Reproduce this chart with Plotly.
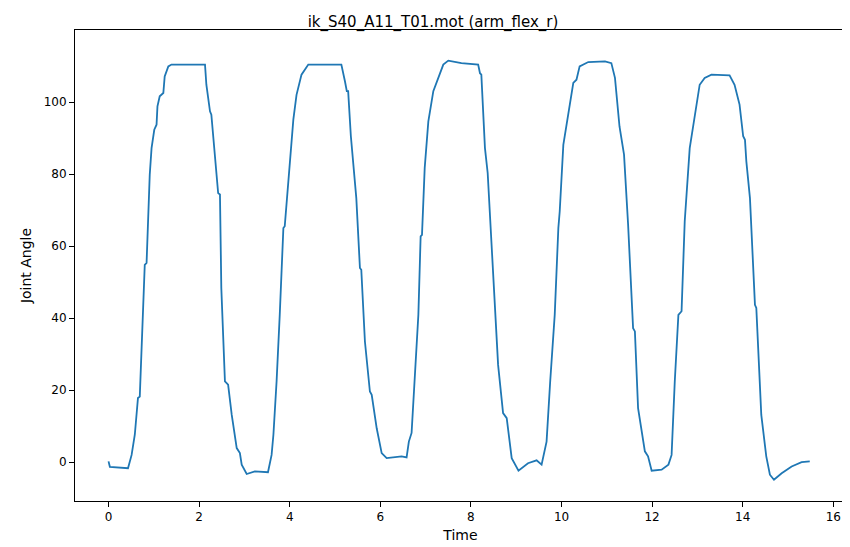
import plotly.graph_objects as go

# joint angle trace
time = [0.0, 0.03, 0.43, 0.51, 0.58, 0.65, 0.69, 0.73, 0.77, 0.80, 0.84, 0.88, 0.91, 0.95, 1.01,
        1.06, 1.08, 1.13, 1.21, 1.24, 1.32, 1.39, 1.69, 1.91, 2.13, 2.16, 2.24, 2.27, 2.35, 2.42,
        2.46, 2.49, 2.57, 2.64, 2.72, 2.83, 2.90, 2.94, 3.05, 3.23, 3.52, 3.60, 3.64, 3.71, 3.78,
        3.86, 3.89, 3.97, 4.08, 4.15, 4.26, 4.41, 4.85, 5.14, 5.22, 5.26, 5.29, 5.35, 5.47, 5.55,
        5.58, 5.66, 5.77, 5.81, 5.92, 6.03, 6.14, 6.47, 6.58, 6.63, 6.69, 6.76, 6.84, 6.89, 6.92,
        6.98, 7.06, 7.17, 7.28, 7.32, 7.39, 7.50, 7.79, 8.16, 8.20, 8.23, 8.31, 8.37, 8.42, 8.45,
        8.60, 8.71, 8.79, 8.90, 9.05, 9.26, 9.45, 9.56, 9.67, 9.75, 9.85, 9.93, 9.96, 10.04, 10.15,
        10.26, 10.33, 10.40, 10.59, 10.96, 11.10, 11.18, 11.28, 11.38, 11.47, 11.58, 11.62, 11.69,
        11.84, 11.91, 11.99, 12.21, 12.36, 12.43, 12.50, 12.58, 12.65, 12.72, 12.83, 12.91, 12.98,
        13.05, 13.16, 13.31, 13.71, 13.82, 13.93, 14.01, 14.05, 14.08, 14.16, 14.27, 14.30, 14.41,
        14.52, 14.60, 14.69, 14.86, 15.08, 15.30, 15.48]
angle = [0.2, -1.3, -1.7, 2.0, 7.6, 17.8, 18.2, 31.7, 44.6, 54.8, 55.3, 72.4, 79.8, 87.2, 92.3,
         93.7, 98.8, 101.6, 102.5, 107.1, 109.9, 110.4, 110.4, 110.6, 110.4, 104.8, 97.4, 96.5, 84.4, 74.7,
         74.3, 48.3, 22.4, 21.5, 13.1, 3.9, 2.5, -0.7, -3.3, -2.6, -2.8, 2.0, 7.6, 22.4, 40.9,
         65.0, 65.5, 78.0, 95.1, 102.0, 107.6, 110.4, 110.4, 110.4, 105.7, 103.0, 103.0, 90.5, 73.3, 53.9,
         53.4, 33.5, 19.6, 18.7, 9.4, 2.5, 1.1, 1.6, 1.3, 5.7, 8.1, 22.4, 40.9, 62.7, 63.1,
         81.7, 94.6, 103.0, 106.7, 107.6, 110.4, 111.5, 110.8, 110.4, 108.0, 107.6, 87.2, 80.3, 68.7, 65.0,
         27.0, 13.6, 12.2, 1.1, -2.4, -0.3, 0.5, -0.7, 5.7, 22.4, 40.9, 65.0, 69.6, 88.1, 96.5,
         105.3, 106.2, 109.9, 111.1, 111.3, 110.8, 106.7, 93.2, 85.4, 65.9, 37.2, 36.3, 15.0,
         3.0, 1.6, -2.4, -2.1, -0.7, 2.0, 22.4, 40.9, 41.9, 66.9, 87.2, 93.7, 98.8,
         104.8, 106.7, 107.6, 107.4, 104.8, 99.3, 90.5, 89.5, 83.5, 73.3, 43.7, 42.8, 13.1,
         1.6, -3.5, -4.9, -3.1, -1.2, 0.0, 0.2]

x_ticks = [0, 2, 4, 6, 8, 10, 12, 14, 16]
y_ticks = [0, 20, 40, 60, 80, 100]

fig = go.Figure(go.Scatter(x=time, y=angle, mode="lines",
                           line=dict(color="#1f77b4", width=1.8)))

axis_style = dict(showgrid=False, zeroline=False, showline=True, mirror=True,
                  linecolor="black", linewidth=1, ticks="outside", ticklen=5,
                  tickcolor="black", tickfont=dict(size=12, color="black"),
                  automargin=False)

fig.update_layout(
    width=850, height=547,
    margin=dict(l=67, r=12, t=22, b=54),
    plot_bgcolor="white", paper_bgcolor="white",
    font=dict(family="DejaVu Sans", size=12, color="black"),
    title=dict(text="ik_S40_A11_T01.mot (arm_flex_r)", x=0.5, xanchor="center",
               y=0.974, yanchor="middle", font=dict(size=15), automargin=False),
    xaxis=dict(range=[-0.74, 16.28], tickvals=x_ticks,
               title=dict(text="Time", standoff=6), **axis_style),
    yaxis=dict(range=[-10.8, 120], tickvals=y_ticks,
               title=dict(text="Joint Angle", standoff=8), **axis_style),
    showlegend=False,
)

fig.write_html("out.html")
